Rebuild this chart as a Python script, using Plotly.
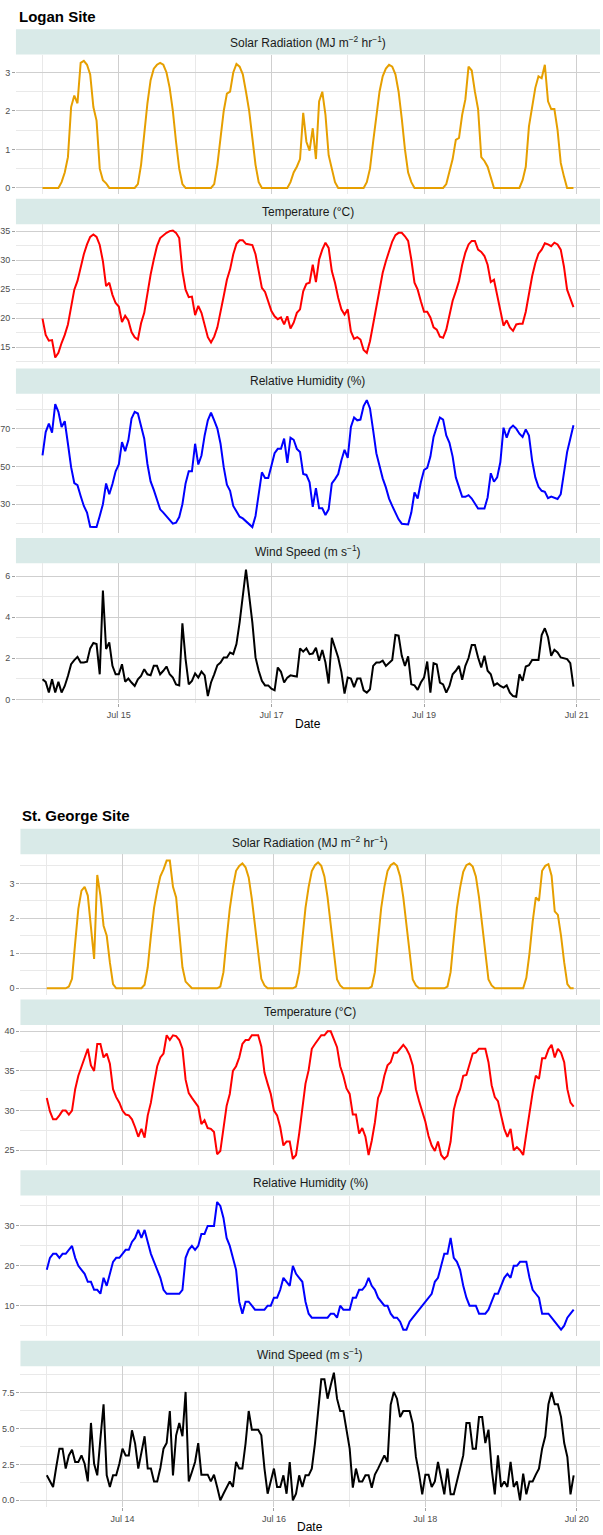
import plotly.graph_objects as go
import pandas as pd

# ---------------- data (hourly) ----------------
logan_start = "2019-07-14 00:00"
sg_start = "2019-07-13 00:00"

logan_solar = [
    0, 0, 0, 0, 0, 0, 0.15, 0.4, 0.8, 2.1, 2.4, 2.2, 3.25, 3.3, 3.2, 2.95, 2.1, 1.75, 0.5, 0.2, 0.12, 0, 0, 0,
    0, 0, 0, 0, 0, 0, 0.1, 0.6, 1.4, 2.2, 2.8, 3.1, 3.2, 3.25, 3.2, 3.0, 2.6, 2.0, 1.2, 0.5, 0.1, 0, 0, 0,
    0, 0, 0, 0, 0, 0, 0.1, 0.6, 1.3, 2.0, 2.45, 2.5, 3.0, 3.22, 3.15, 2.95, 2.5, 2.0, 1.3, 0.6, 0.15, 0, 0, 0,
    0, 0, 0, 0, 0, 0, 0.15, 0.4, 0.55, 0.75, 1.95, 1.2, 0.97, 1.55, 0.75, 2.25, 2.5, 1.9, 0.85, 0.5, 0.15, 0, 0, 0,
    0, 0, 0, 0, 0, 0, 0.15, 0.5, 1.2, 1.9, 2.5, 2.9, 3.1, 3.2, 3.15, 2.95, 2.5, 1.8, 1.0, 0.4, 0.15, 0, 0, 0,
    0, 0, 0, 0, 0, 0, 0, 0.1, 0.4, 0.75, 1.25, 1.3, 1.9, 2.3, 3.15, 3.05, 2.5, 2.05, 0.8, 0.7, 0.55, 0.25, 0, 0,
    0, 0, 0, 0, 0, 0, 0, 0.2, 0.55, 1.6, 2.1, 2.6, 2.9, 2.85, 3.2, 2.25, 2.05, 2.05, 1.5, 0.65, 0.3, 0, 0, 0,
]
logan_temp = [
    19.9, 17.1, 16.1, 16.2, 13.2, 14.0, 15.7, 17.1, 18.9, 22.0, 24.9, 26.4, 28.7, 31.0, 32.7, 34.0, 34.4, 34.0, 32.6, 29.8, 25.5, 26.1, 24.0, 22.6,
    22.0, 19.3, 20.4, 19.6, 17.6, 16.7, 16.3, 19.1, 20.9, 24.6, 27.5, 30.1, 32.4, 33.8, 34.3, 34.7, 35.0, 35.1, 34.7, 33.8, 28.1, 24.9, 23.6, 23.7,
    20.5, 22.1, 20.9, 18.6, 16.7, 15.8, 16.8, 18.4, 20.9, 23.8, 26.6, 28.4, 31.0, 32.8, 33.4, 33.4, 32.8, 32.7, 32.6, 31.0, 28.1, 25.2, 24.5, 22.9,
    21.2, 20.3, 19.8, 20.1, 18.9, 20.3, 18.2, 19.2, 20.9, 21.5, 24.6, 25.9, 26.1, 29.2, 26.2, 30.1, 31.8, 33.0, 32.1, 28.1, 26.1, 23.5, 21.5, 20.6,
    21.5, 17.7, 16.4, 16.7, 16.3, 14.5, 14.0, 16.0, 18.9, 22.3, 25.2, 27.8, 29.8, 31.5, 33.2, 34.3, 34.7, 34.7, 34.1, 33.3, 30.1, 26.1, 24.9, 22.9,
    21.1, 21.1, 20.1, 18.4, 18.0, 16.8, 16.6, 18.0, 20.6, 23.0, 24.6, 26.4, 29.2, 31.3, 32.7, 33.3, 33.3, 31.8, 31.4, 30.7, 29.2, 26.2, 26.6, 24.0,
    21.5, 18.7, 19.6, 18.4, 17.8, 18.9, 19.0, 19.0, 21.1, 24.2, 27.2, 29.5, 31.1, 31.8, 32.9, 32.7, 32.4, 33.0, 32.7, 31.8, 28.9, 24.9, 23.5, 21.9,
]
logan_rh = [
    55.8, 68.2, 72.7, 67.9, 83.0, 78.9, 70.9, 73.9, 62.0, 49.6, 41.2, 40.1, 34.4, 29.1, 25.6, 18.1, 17.9, 17.9, 23.8, 30.0, 41.0, 35.3, 40.7, 47.4,
    51.0, 62.9, 58.1, 63.8, 75.3, 78.9, 78.0, 71.8, 64.7, 51.3, 42.1, 37.6, 32.7, 27.3, 25.6, 23.8, 21.6, 19.7, 20.2, 23.2, 30.0, 41.0, 47.4, 47.4,
    62.0, 51.0, 55.8, 66.4, 74.4, 78.4, 74.4, 70.0, 62.0, 49.6, 40.3, 37.1, 29.1, 25.9, 23.4, 22.5, 21.1, 19.7, 17.9, 23.8, 36.2, 46.9, 43.9, 43.9,
    50.4, 57.0, 59.3, 59.3, 64.7, 51.9, 65.2, 64.1, 59.3, 57.6, 46.0, 45.5, 41.6, 28.6, 38.5, 27.9, 27.9, 24.3, 27.3, 41.0, 43.3, 46.0, 53.1, 58.8,
    54.5, 70.9, 75.9, 74.4, 74.8, 81.9, 85.1, 80.7, 69.1, 57.0, 50.4, 43.7, 38.9, 33.0, 29.1, 25.6, 22.0, 19.7, 19.3, 19.3, 25.6, 36.2, 33.0, 41.6,
    48.1, 49.2, 55.2, 65.6, 70.9, 75.9, 74.8, 66.4, 62.5, 55.2, 44.2, 39.2, 33.9, 33.9, 34.8, 33.0, 30.4, 27.7, 27.7, 27.7, 33.6, 46.4, 41.9, 44.2,
    52.2, 70.5, 65.2, 70.0, 71.6, 70.0, 67.3, 65.6, 69.6, 66.4, 53.1, 44.2, 39.2, 37.1, 36.6, 33.2, 34.0, 33.2, 32.8, 35.3, 46.0, 57.6, 64.7, 71.8,
]
logan_wind = [
    0.98, 0.85, 0.33, 0.98, 0.33, 0.85, 0.33, 0.65, 1.14, 1.71, 1.91, 2.07, 1.79, 1.79, 1.83, 2.48, 2.74, 2.69, 1.22, 5.30, 2.45, 2.77, 1.63, 1.22,
    1.22, 1.71, 0.86, 1.01, 0.82, 0.65, 0.98, 1.14, 1.47, 1.22, 1.17, 1.63, 1.63, 1.22, 1.39, 1.60, 1.22, 1.06, 0.73, 0.68, 3.70, 1.96, 0.73, 0.90,
    1.26, 1.06, 1.35, 1.17, 0.16, 0.82, 1.22, 1.66, 1.79, 2.04, 2.04, 2.28, 2.20, 2.69, 3.75, 5.05, 6.31, 5.05, 3.75, 2.04, 1.39, 0.90, 0.68, 0.68,
    0.52, 0.44, 1.55, 1.34, 0.82, 1.06, 1.17, 1.14, 1.11, 2.48, 2.32, 2.48, 2.20, 2.23, 2.51, 1.88, 2.40, 1.79, 0.77, 3.00, 2.53, 2.04, 1.34, 0.28,
    1.06, 1.01, 0.60, 1.01, 1.01, 0.44, 0.33, 0.49, 1.63, 1.79, 1.79, 1.88, 1.63, 1.79, 1.92, 3.13, 3.10, 2.12, 1.63, 2.09, 0.73, 0.68, 0.46, 0.82,
    1.06, 1.84, 0.33, 1.76, 1.70, 0.82, 0.73, 0.33, 0.65, 1.22, 1.39, 1.63, 0.95, 1.63, 2.01, 2.64, 2.64, 2.04, 1.55, 2.12, 1.39, 1.22, 0.68, 0.78,
    0.65, 0.57, 0.68, 0.33, 0.16, 0.13, 1.22, 0.90, 1.60, 1.66, 1.92, 1.92, 1.92, 3.13, 3.46, 3.02, 2.12, 2.41, 2.28, 2.04, 2.01, 1.96, 1.76, 0.62,
]

sg_solar = [
    0, 0, 0, 0, 0, 0, 0, 0.05, 0.27, 1.3, 2.27, 2.79, 2.9, 2.65, 1.79, 0.84, 3.24, 2.65, 1.79, 1.5, 0.74, 0.12, 0, 0,
    0, 0, 0, 0, 0, 0, 0, 0.1, 0.6, 1.5, 2.3, 2.8, 3.2, 3.4, 3.65, 3.65, 2.9, 2.6, 1.6, 0.6, 0.19, 0.08, 0, 0,
    0, 0, 0, 0, 0, 0, 0, 0.05, 0.46, 1.41, 2.27, 2.89, 3.36, 3.5, 3.57, 3.46, 3.17, 2.55, 1.79, 0.93, 0.27, 0.08, 0, 0,
    0, 0, 0, 0, 0, 0, 0, 0.05, 0.46, 1.4, 2.3, 2.9, 3.35, 3.52, 3.6, 3.5, 3.2, 2.6, 1.8, 0.9, 0.25, 0.08, 0, 0,
    0, 0, 0, 0, 0, 0, 0, 0.05, 0.46, 1.4, 2.3, 2.9, 3.35, 3.52, 3.58, 3.5, 3.2, 2.6, 1.8, 0.9, 0.25, 0.08, 0, 0,
    0, 0, 0, 0, 0, 0, 0, 0.05, 0.46, 1.42, 2.3, 2.88, 3.33, 3.52, 3.57, 3.48, 3.2, 2.6, 1.8, 0.9, 0.25, 0.08, 0, 0,
    0, 0, 0, 0, 0, 0, 0, 0, 0.3, 1.0, 1.9, 2.6, 2.5, 3.36, 3.5, 3.55, 3.22, 2.2, 2.1, 1.5, 0.74, 0.12, 0, 0,
]
sg_temp = [
    31.6, 29.9, 28.9, 28.9, 29.4, 30.0, 30.0, 29.5, 30.0, 32.7, 34.4, 35.6, 36.7, 37.8, 35.7, 35.0, 38.4, 38.4, 36.7, 37.2, 35.9, 32.7, 31.7, 31.0,
    30.0, 29.5, 29.4, 28.9, 27.9, 26.7, 27.7, 26.6, 29.4, 31.0, 33.4, 35.6, 36.7, 37.2, 39.5, 38.9, 39.5, 39.4, 38.9, 37.8, 33.9, 32.2, 31.6, 31.0,
    30.5, 28.3, 28.8, 27.8, 27.7, 27.3, 24.5, 24.9, 27.7, 30.6, 32.1, 35.0, 35.6, 36.7, 38.4, 38.9, 38.9, 39.5, 39.5, 39.5, 38.1, 34.8, 33.4, 32.1,
    30.0, 29.4, 27.9, 25.6, 26.1, 26.1, 23.9, 24.4, 27.1, 30.2, 33.4, 35.1, 37.8, 38.4, 38.9, 39.5, 39.5, 40.0, 40.0, 38.9, 38.0, 35.6, 34.4, 32.8,
    32.1, 29.5, 29.5, 27.1, 27.8, 26.7, 24.4, 26.2, 28.5, 31.6, 32.5, 34.4, 35.7, 36.1, 37.3, 37.3, 37.8, 38.3, 37.8, 37.0, 35.7, 32.7, 31.2, 30.0,
    28.6, 26.8, 25.6, 24.9, 26.1, 24.4, 23.9, 24.3, 26.1, 30.1, 31.7, 32.7, 34.4, 34.5, 35.9, 37.2, 37.3, 37.8, 37.8, 37.8, 36.1, 33.2, 31.7, 31.2,
    29.4, 27.7, 26.7, 27.7, 25.0, 25.4, 25.0, 24.4, 27.1, 29.8, 32.3, 34.4, 34.0, 36.6, 36.6, 37.7, 38.3, 36.7, 37.8, 37.3, 36.1, 32.7, 31.0, 30.5,
]
sg_rh = [
    19, 22, 23, 23, 22, 23, 23, 24, 25, 22, 20, 19, 18, 16, 16, 14, 14, 13, 17, 15, 18, 21, 22, 22,
    23, 24, 24, 26, 27, 29, 27, 29, 26, 23, 21, 19, 17, 14, 13, 13, 13, 13, 13, 14, 22, 24, 25, 24,
    25, 28, 28, 30, 30, 30, 36, 35, 32, 27, 25, 22, 19, 11, 8, 11, 11, 10, 9, 9, 9, 9, 10, 10,
    12, 12, 14, 17, 16, 15, 20, 18, 17, 16, 11, 8, 7, 7, 7, 7, 7, 7, 8, 8, 7, 10, 9, 9,
    9, 12, 12, 14, 14, 15, 17, 15, 14, 12, 11, 10, 10, 8, 7, 7, 6, 4, 4, 6, 7, 8, 9, 10,
    11, 12, 13, 16, 17, 20, 23, 23, 27, 22, 21, 19, 15, 12, 10, 10, 10, 8, 8, 8, 9, 11, 13, 13,
    15, 17, 18, 17, 20, 20, 21, 21, 21, 17, 14, 13, 12, 8, 8, 8, 7, 6, 5, 4, 5, 7, 8, 9,
]
sg_wind = [
    1.74, 1.28, 0.93, 2.32, 3.60, 3.60, 2.21, 3.13, 3.53, 2.67, 2.67, 3.13, 2.55, 1.32, 5.39, 2.55, 1.74, 4.30, 6.69, 1.74, 0.93, 1.74, 1.74, 2.55,
    3.60, 3.13, 3.13, 4.88, 3.95, 2.21, 3.48, 4.46, 2.21, 2.21, 1.32, 1.32, 2.25, 3.60, 3.99, 6.22, 1.74, 4.53, 5.39, 4.46, 7.55, 1.32, 1.97, 2.67,
    3.99, 1.79, 1.79, 1.79, 1.32, 1.79, 0.93, 0.00, 0.46, 0.93, 1.32, 0.93, 2.67, 2.21, 2.21, 3.95, 6.22, 4.92, 4.92, 4.92, 4.53, 2.21, 0.46, 1.32,
    2.21, 0.93, 0.93, 1.74, 0.46, 2.67, 0.00, 0.46, 1.74, 0.93, 1.74, 1.74, 2.21, 3.95, 6.04, 8.43, 8.43, 7.08, 8.01, 8.89, 7.08, 6.22, 6.22, 4.99,
    3.60, 0.88, 2.21, 1.32, 1.32, 1.74, 1.74, 0.88, 1.79, 2.21, 2.67, 3.13, 2.67, 6.66, 7.55, 7.08, 5.80, 6.22, 6.22, 6.22, 5.34, 3.02, 1.86, 0.42,
    1.79, 1.79, 0.93, 1.32, 2.67, 1.39, 0.42, 2.21, 0.42, 0.42, 1.32, 2.21, 3.13, 5.39, 5.39, 3.60, 3.60, 5.80, 5.80, 3.99, 4.92, 2.21, 0.42, 3.13,
    0.93, 1.32, 0.93, 2.67, 0.93, 1.32, 0.00, 1.86, 0.42, 1.32, 1.32, 1.79, 2.21, 3.60, 4.46, 6.69, 7.55, 6.69, 6.69, 5.80, 3.99, 3.02, 0.42, 1.74,
]

strip_labels = [
    "Solar Radiation (MJ m<sup>−2</sup> hr<sup>−1</sup>)",
    "Temperature (°C)",
    "Relative Humidity (%)",
    "Wind Speed (m s<sup>−1</sup>)",
]
line_colors = ["#E69F00", "#FF0000", "#0000FF", "#000000"]

# ---------------- layout constants ----------------
W, H = 603, 1535
RIGHT = 600
STRIP_FILL = "#d9eae8"
MAJOR = "#cfcfcf"
MINOR = "#e9e9e9"
FONT = "Liberation Sans, Arial, sans-serif"
DAY_MS = 86400000

sites = [
    dict(title="Logan Site", start=logan_start, tick0="2019-07-15",
         series=[logan_solar, logan_temp, logan_rh, logan_wind],
         dticks=[1, 5, 20, 2], tick0s=[0, 15, 30, 0], fmts=["", "", "", ""],
         left=14, title_x=15, title_y=17, strip_top=29.3, strip_h=25.3,
         panel_h=139.8, step=169.7, date_y=724),
    dict(title="St. George Site", start=sg_start, tick0="2019-07-14",
         series=[sg_solar, sg_temp, sg_rh, sg_wind],
         dticks=[1, 5, 10, 2.5], tick0s=[0, 25, 10, 0], fmts=["", "", "", ".1f"],
         left=18.5, title_x=18.5, title_y=816, strip_top=829.3, strip_h=25.5,
         panel_h=140.5, step=170.8, date_y=1528),
]

fig = go.Figure()
layout = {}
shapes = []
annotations = []
k = 0
for site in sites:
    xc = (site["left"] + RIGHT) / 2 / W
    annotations.append(dict(text="<b>%s</b>" % site["title"], x=site["title_x"] / W,
                            y=1 - site["title_y"] / H, xref="paper", yref="paper",
                            xanchor="left", yanchor="middle", showarrow=False,
                            font=dict(family=FONT, size=15, color="#000000")))
    annotations.append(dict(text="Date", x=xc, y=1 - site["date_y"] / H, xref="paper",
                            yref="paper", xanchor="center", yanchor="middle",
                            showarrow=False, font=dict(family=FONT, size=12, color="#000000")))
    for i, vals in enumerate(site["series"]):
        k += 1
        xname = "x" if k == 1 else "x%d" % k
        yname = "y" if k == 1 else "y%d" % k
        xkey = "xaxis" if k == 1 else "xaxis%d" % k
        ykey = "yaxis" if k == 1 else "yaxis%d" % k
        t = pd.date_range(site["start"], periods=len(vals), freq="h")
        span = t[-1] - t[0]
        xr = [(t[0] - 0.05 * span).isoformat(), (t[-1] + 0.05 * span).isoformat()]
        vmin, vmax = min(vals), max(vals)
        vs = vmax - vmin
        yr = [vmin - 0.05 * vs, vmax + 0.05 * vs]

        s_top = site["strip_top"] + i * site["step"]
        p_top = s_top + site["strip_h"]
        p_bot = p_top + site["panel_h"]

        fig.add_trace(go.Scatter(x=t, y=vals, mode="lines", xaxis=xname, yaxis=yname,
                                 line=dict(color=line_colors[i], width=2),
                                 showlegend=False, hoverinfo="skip"))
        bottom = (i == 3)
        layout[xkey] = dict(
            type="date", domain=[site["left"] / W, RIGHT / W], anchor=yname, range=xr,
            tick0=site["tick0"], dtick=2 * DAY_MS, tickformat="%b %d",
            showgrid=True, gridcolor=MAJOR, gridwidth=1,
            minor=dict(dtick=DAY_MS, tick0=site["tick0"], showgrid=True,
                       gridcolor=MINOR, gridwidth=1),
            showticklabels=bottom, ticks="outside" if bottom else "", ticklen=3,
            tickcolor="#a0a0a0", tickfont=dict(family=FONT, size=9, color="#4d4d4d"),
            showline=False, zeroline=False, fixedrange=True)
        half = site["dticks"][i] / 2
        layout[ykey] = dict(
            domain=[1 - p_bot / H, 1 - p_top / H], anchor=xname, range=yr,
            tick0=site["tick0s"][i], dtick=site["dticks"][i], tickformat=site["fmts"][i],
            showgrid=True, gridcolor=MAJOR, gridwidth=1,
            minor=dict(dtick=half, tick0=site["tick0s"][i], showgrid=True,
                       gridcolor=MINOR, gridwidth=1),
            ticks="outside", ticklen=3, tickcolor="#a0a0a0",
            tickfont=dict(family=FONT, size=9, color="#4d4d4d"),
            showline=False, zeroline=False, fixedrange=True)

        shapes.append(dict(type="rect", xref="paper", yref="paper",
                           x0=site["left"] / W, x1=RIGHT / W,
                           y0=1 - (s_top + site["strip_h"]) / H, y1=1 - s_top / H,
                           fillcolor=STRIP_FILL, line=dict(width=0), layer="below"))
        annotations.append(dict(text=strip_labels[i], x=xc,
                                y=1 - (s_top + site["strip_h"] / 2) / H,
                                xref="paper", yref="paper", xanchor="center",
                                yanchor="middle", showarrow=False,
                                font=dict(family=FONT, size=12, color="#1a1a1a")))

fig.update_layout(**layout)
fig.update_layout(width=W, height=H, autosize=False,
                  margin=dict(l=0, r=0, t=0, b=0, pad=0),
                  plot_bgcolor="white", paper_bgcolor="white",
                  shapes=shapes, annotations=annotations, showlegend=False,
                  font=dict(family=FONT))
fig.write_html(
    "out.html",
    config={"displayModeBar": False, "staticPlot": True},
    post_script="document.body.style.margin='0';document.body.style.padding='0';"
                "document.body.style.overflow='hidden';",
)
